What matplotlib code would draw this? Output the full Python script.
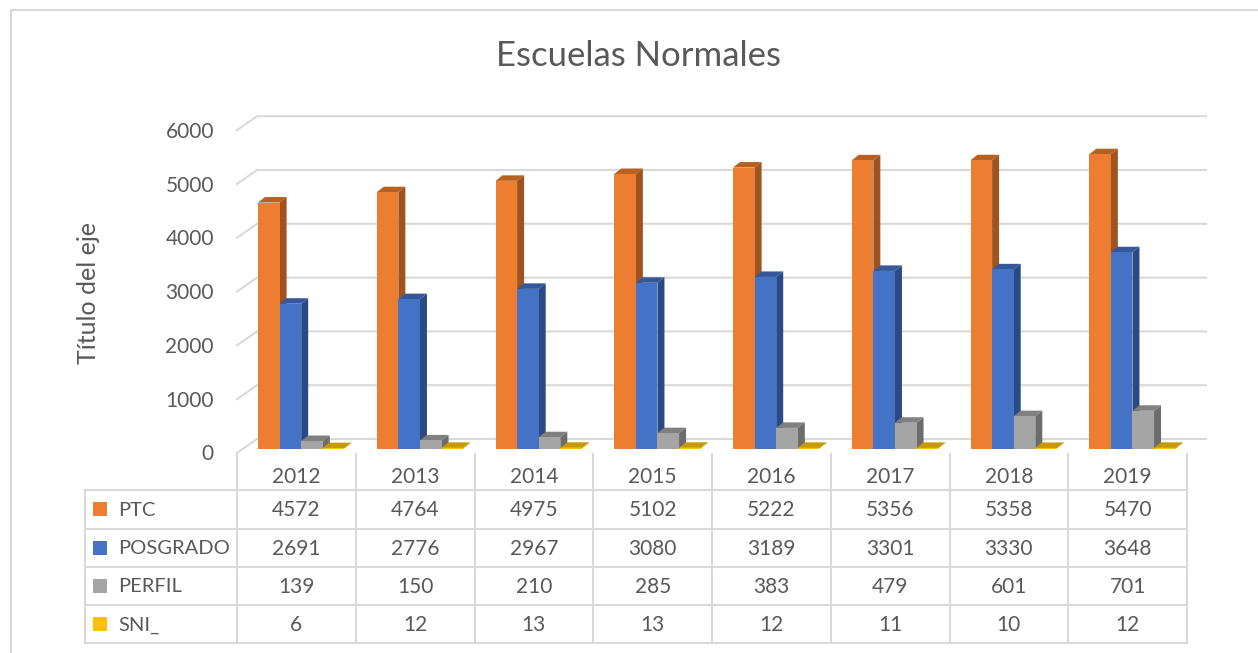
import matplotlib
matplotlib.use('Agg')
import matplotlib.pyplot as plt

years = ['2012', '2013', '2014', '2015', '2016', '2017', '2018', '2019']
series = ['PTC', 'POSGRADO', 'PERFIL', 'SNI_']
ptc = [4572, 4764, 4975, 5102, 5222, 5356, 5358, 5470]
posgrado = [2691, 2776, 2967, 3080, 3189, 3301, 3330, 3648]
perfil = [139, 150, 210, 285, 383, 479, 601, 701]
sni = [6, 12, 13, 13, 12, 11, 10, 12]
y_ticks = [0, 1000, 2000, 3000, 4000, 5000, 6000]

values = [ptc, posgrado, perfil, sni]
front_col = ['#ED7D31', '#4472C4', '#A5A5A5', '#FFC000']
top_col = ['#B8611F', '#34589A', '#808080', '#C79800']
side_col = ['#9E5320', '#2A4A85', '#6C6C6C', '#A88000']
text_col = '#595959'
grid_col = '#D9D9D9'
W, H = 1258, 653

plt.rcParams['font.family'] = ['Lato', 'DejaVu Sans']
fig = plt.figure(figsize=(W / 100, H / 100), dpi=100)

# overlay in pixel coords for frame, table, title
pg = fig.add_axes([0, 0, 1, 1])
pg.set_xlim(0, W)
pg.set_ylim(H, 0)
pg.axis('off')

# plot area: x 237..1187 holds the 8 categories, y 0 sits at bar base
px_per_val = 0.0538
base_y = 448.5
top_y = base_y - 6000 * px_per_val
ax = fig.add_axes([237 / W, 1 - base_y / H, 950 / W, (base_y - top_y) / H])
ax.set_xlim(0, 8)
ax.set_ylim(0, 6000)
ax.axis('off')

cat_px = 950 / 8
bar_w = 21.6 / cat_px
dx = 7 / cat_px
dy = 5.5 / px_per_val

# walls
back_off = (base_y - 439) / px_per_val
front_off = (453 - base_y) / px_per_val
wall_dx = 20 / cat_px
for v in y_ticks:
    ax.plot([0, wall_dx, 8.16], [v - front_off, v + back_off, v + back_off],
            color=grid_col, lw=1.5, clip_on=False, zorder=1, solid_joinstyle='miter')
    ax.text(-23 / cat_px, v - front_off - 1.5 / px_per_val, str(v), ha='right', va='center',
            fontsize=15, color=text_col, clip_on=False)

# 3d bars
for i in range(len(years)):
    for s, vals in enumerate(values):
        x0 = i + 21 / cat_px + s * bar_w
        x1 = x0 + bar_w
        v = vals[i]
        z = 3 + i + s * 0.1
        ax.fill([x1, x1 + dx, x1 + dx, x1], [0, dy, v + dy, v], color=side_col[s], lw=0, zorder=z, clip_on=False)
        ax.fill([x0, x0 + dx, x1 + dx, x1], [v, v + dy, v + dy, v], color=top_col[s], lw=0, zorder=z, clip_on=False)
        ax.bar(x0, v, width=bar_w, align='edge', color=front_col[s], lw=0, zorder=z, clip_on=False)

# data table
col_x = [237 + k * cat_px for k in range(9)]
row_y = [490, 528.5, 567, 605, 643]
for y in row_y:
    pg.plot([85, col_x[-1]], [y, y], color=grid_col, lw=1.5)
pg.plot([85, 85], [row_y[0], row_y[-1]], color=grid_col, lw=1.5)
for x in col_x:
    pg.plot([x, x], [454, row_y[-1]], color=grid_col, lw=1.5)
for k, yr in enumerate(years):
    pg.text(col_x[k] + cat_px / 2, 477, yr, ha='center', va='center', fontsize=15, color=text_col)
for r, name in enumerate(series):
    cy = (row_y[r] + row_y[r + 1]) / 2
    pg.add_patch(plt.Rectangle((93, cy - 7), 14, 14, color=front_col[r], lw=0))
    pg.text(118, cy + 1, name, ha='left', va='center', fontsize=14.5, color=text_col)
    for k, val in enumerate(values[r]):
        pg.text(col_x[k] + cat_px / 2, cy + 1, str(val), ha='center', va='center', fontsize=15, color=text_col)

pg.text(639, 56, 'Escuelas Normales', ha='center', va='center', fontsize=25, color=text_col)
pg.text(89, 293, 'Título del eje', rotation=90, ha='center', va='center', fontsize=18, color=text_col)

# chart frame
pg.plot([11, 11, W], [H, 10, 10], color=grid_col, lw=1.5)

fig.savefig('out.png', dpi=100)
plt.close()
